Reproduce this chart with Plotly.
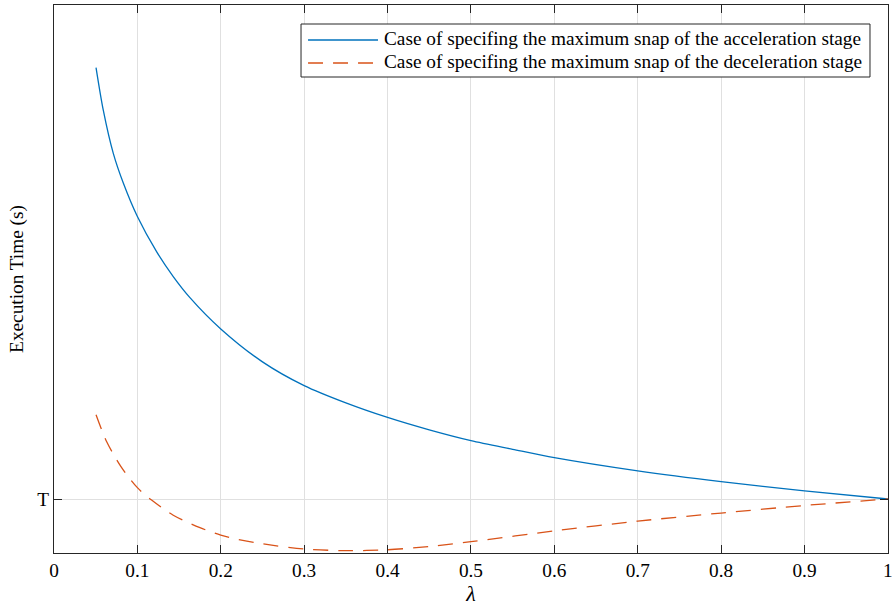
import plotly.graph_objects as go

# lambda values and execution-time values (T = 1, arbitrary units)
lam_acc = [0.0504, 0.0591, 0.0711, 0.0831, 0.10, 0.123, 0.143, 0.163, 0.20, 0.25, 0.30, 0.35, 0.40, 0.45, 0.50, 0.55, 0.60, 0.70, 0.80, 0.90, 1.00]
time_acc = [8.99, 8.20, 7.40, 6.85, 6.23, 5.58, 5.12, 4.73, 4.15, 3.54, 3.10, 2.78, 2.51, 2.28, 2.08, 1.92, 1.765, 1.52, 1.32, 1.15, 1.00]

lam_dec = [0.0504, 0.0632, 0.0803, 0.10, 0.117, 0.143, 0.175, 0.20, 0.221, 0.25, 0.30, 0.35, 0.40, 0.45, 0.50, 0.60, 0.70, 0.80, 0.90, 1.00]
time_dec = [2.56, 2.06, 1.60, 1.21, 0.98, 0.70, 0.47, 0.33, 0.25, 0.17, 0.074, 0.043, 0.06, 0.12, 0.21, 0.41, 0.59, 0.74, 0.88, 1.00]

x_ticks = [0, 0.1, 0.2, 0.3, 0.4, 0.5, 0.6, 0.7, 0.8, 0.9, 1]
x_tick_labels = ["0", "0.1", "0.2", "0.3", "0.4", "0.5", "0.6", "0.7", "0.8", "0.9", "1"]
y_ticks = [1.0]
y_tick_labels = ["T"]

names = ["Case of specifing the maximum snap of the acceleration stage",
         "Case of specifing the maximum snap of the deceleration stage"]
colors = ["#0072BD", "#D95319"]
dashes = ["solid", "15px,10px"]

FONT = "Liberation Serif"
FS = 19.3

fig = go.Figure()
fig.add_trace(go.Scatter(x=lam_acc, y=time_acc, mode="lines", name=names[0],
                         line=dict(color=colors[0], width=1.3, shape="spline", smoothing=0.8)))
fig.add_trace(go.Scatter(x=lam_dec, y=time_dec, mode="lines", name=names[1],
                         line=dict(color=colors[1], width=1.3, dash=dashes[1], shape="spline", smoothing=0.8)))

axis_common = dict(showline=True, linecolor="#262626", linewidth=1, mirror="ticks",
                   ticks="inside", ticklen=8, tickcolor="#262626", tickwidth=1,
                   showgrid=True, gridcolor="#e0e0e0", gridwidth=1, zeroline=False,
                   automargin=False,
                   tickfont=dict(family=FONT, size=FS, color="#000000"))

# custom legend box (paper coordinates) to match the compact MATLAB legend
lx0, lx1, ly0, ly1 = 0.2962, 0.9784, 0.8686, 0.9653
row_y = [0.9361, 0.8942]
line_x0, line_x1, text_x = 0.3046, 0.3885, 0.3935

shapes = [dict(type="rect", xref="paper", yref="paper", x0=lx0, x1=lx1, y0=ly0, y1=ly1,
               line=dict(color="#262626", width=1), fillcolor="white", layer="above")]
annotations = []
for i in range(2):
    shapes.append(dict(type="line", xref="paper", yref="paper", x0=line_x0, x1=line_x1,
                       y0=row_y[i], y1=row_y[i], layer="above",
                       line=dict(color=colors[i], width=1.3, dash=dashes[i])))
    annotations.append(dict(xref="paper", yref="paper", x=text_x, y=row_y[i] + 0.002,
                            xanchor="left", yanchor="middle", showarrow=False, text=names[i],
                            font=dict(family=FONT, size=FS, color="#000000")))

fig.update_layout(
    width=893, height=611,
    margin=dict(l=54, r=5, t=5, b=58, autoexpand=False),
    paper_bgcolor="white", plot_bgcolor="white",
    font=dict(family=FONT, size=FS, color="#000000"),
    xaxis=dict(range=[0, 1.0001], tickvals=x_ticks, ticktext=x_tick_labels,
               title=dict(text="<i>λ</i>", font=dict(family=FONT, size=22), standoff=3),
               **axis_common),
    yaxis=dict(range=[0, 10.148], tickvals=y_ticks, ticktext=y_tick_labels,
               title=dict(text="Execution Time (s)", font=dict(family=FONT, size=FS), standoff=8),
               **axis_common),
    shapes=shapes,
    annotations=annotations,
    showlegend=False,
)

fig.write_html("out.html", config={"displayModeBar": False},
               post_script="document.body.style.margin='0';document.body.style.padding='0';")
